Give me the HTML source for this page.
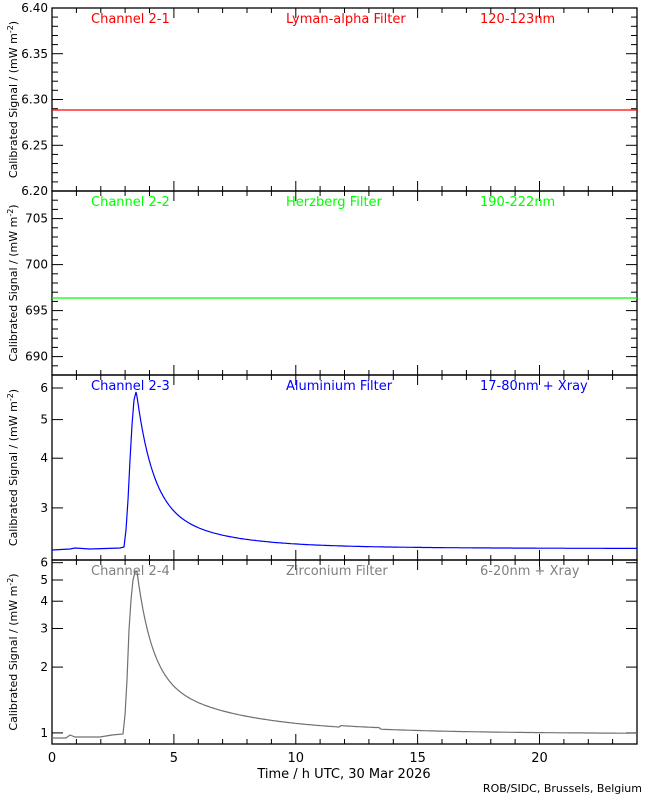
<!DOCTYPE html>
<html><head><meta charset="utf-8"><style>
html,body{margin:0;padding:0;background:#fff;}
svg{display:block;font-family:"DejaVu Sans","Liberation Sans",sans-serif;}
</style></head><body>
<svg id="s" width="650" height="800" xmlns="http://www.w3.org/2000/svg"></svg>
<script>
const s=document.getElementById('s');let h='';
const L=52,R=637;const xs=t=>L+(R-L)*t/24;
const panels=[
 {top:8,bot:191,lin:[6.20,6.40],maj:[6.20,6.25,6.30,6.35,6.40],lab:['6.20','6.25','6.30','6.35','6.40'],minStep:0.01,col:'#ff0000',t:['Channel 2-1','Lyman-alpha Filter','120-123nm']},
 {top:191,bot:375,lin:[688,708],maj:[690,695,700,705],lab:['690','695','700','705'],minStep:1,col:'#00ff00',t:['Channel 2-2','Herzberg Filter','190-222nm']},
 {top:375,bot:560,log:[2.22,6.47],maj:[3,4,5,6],lab:['3','4','5','6'],col:'#0000ff',t:['Channel 2-3','Aluminium Filter','17-80nm + Xray']},
 {top:560,bot:744,log:[0.89,6.17],maj:[1,2,3,4,5,6],lab:['1','2','3','4','5','6'],col:'#808080',t:['Channel 2-4','Zirconium Filter','6-20nm + Xray']}
];
panels.forEach((p,i)=>{
 const Y=v=>p.lin? p.bot-(v-p.lin[0])/(p.lin[1]-p.lin[0])*(p.bot-p.top) : p.bot-(Math.log10(v)-Math.log10(p.log[0]))/(Math.log10(p.log[1])-Math.log10(p.log[0]))*(p.bot-p.top);
 h+=`<rect x="${L}" y="${p.top}" width="${R-L}" height="${p.bot-p.top}" fill="none" stroke="#000" stroke-width="1.3"/>`;
 for(let t=0;t<=24;t++){const x=xs(t).toFixed(1);const len=t%5==0?10:5;
  h+=`<line x1="${x}" y1="${p.bot}" x2="${x}" y2="${p.bot-len}" stroke="#000"/><line x1="${x}" y1="${p.top}" x2="${x}" y2="${p.top+len}" stroke="#000"/>`;}
 if(p.lin){const n=Math.round((p.lin[1]-p.lin[0])/p.minStep);for(let k=0;k<=n;k++){const v=p.lin[0]+k*p.minStep;const y=Y(v).toFixed(1);
   const maj=p.maj.some(m=>Math.abs(m-v)<1e-6);const len=maj?11:6;
   h+=`<line x1="${L}" y1="${y}" x2="${L+len}" y2="${y}" stroke="#000"/><line x1="${R}" y1="${y}" x2="${R-len}" y2="${y}" stroke="#000"/>`;}}
 p.maj.forEach((v,k)=>{const y=Y(v);if(p.log){h+=`<line x1="${L}" y1="${y.toFixed(1)}" x2="${L+11}" y2="${y.toFixed(1)}" stroke="#000"/><line x1="${R}" y1="${y.toFixed(1)}" x2="${R-11}" y2="${y.toFixed(1)}" stroke="#000"/>`;}
  h+=`<text x="${L-4}" y="${(y+4).toFixed(1)}" font-size="12" text-anchor="end">${p.lab[k]}</text>`;});
 const cy=(p.top+p.bot)/2;
 h+=`<text transform="translate(17,${cy}) rotate(-90)" font-size="11" text-anchor="middle">Calibrated Signal / (mW m<tspan dy="-4" font-size="8">-2</tspan><tspan dy="4">)</tspan></text>`;
 const ty=p.top+15;
 h+=`<text x="91" y="${ty}" font-size="13" fill="${p.col}">${p.t[0]}</text><text x="286" y="${ty}" font-size="13" fill="${p.col}">${p.t[1]}</text><text x="480" y="${ty}" font-size="13" fill="${p.col}">${p.t[2]}</text>`;
});
h+=`<line x1="${L}" y1="110" x2="${R}" y2="110" stroke="#ff0000" stroke-width="1.3"/>`;
h+=`<line x1="${L}" y1="298" x2="${R}" y2="298" stroke="#00ff00" stroke-width="1.3"/>`;
const p3=[[52,550],[70,549],[75,548],[90,549],[120,548],[124,547],[126,530],[128,500],[130,460],[132,425],[134,400],[136,392]];
for(let x=137;x<=637;x+=2){const d=x-136;p3.push([x,(549-110*Math.exp(-d/16)-47*Math.exp(-d/60)-3*Math.exp(-d/300)).toFixed(1)]);}
const p4=[[52,738],[66,738],[70,735],[75,737],[100,737],[112,735],[123,734],[125,715],[127,680],[129,630],[131,600],[133,580],[135,572]];
for(let x=137;x<=637;x+=2){const d=x-136;let y=734-110*Math.exp(-d/15)-52*Math.exp(-d/80)-8*Math.exp(-d/200);if(x>340&&x<380)y-=1.5;p4.push([x,y.toFixed(1)]);}
const pl=(a,c)=>`<polyline points="${a.map(q=>q.join(',')).join(' ')}" fill="none" stroke="${c}" stroke-width="1.2"/>`;
h+=pl(p3,'#0000ff')+pl(p4,'#707070');
[0,5,10,15,20].forEach(t=>{h+=`<text x="${xs(t)}" y="762" font-size="13" text-anchor="middle">${t}</text>`;});
h+=`<text x="344" y="778" font-size="13" text-anchor="middle">Time / h UTC, 30 Mar 2026</text>`;
h+=`<text x="642" y="792" font-size="11" text-anchor="end">ROB/SIDC, Brussels, Belgium</text>`;
s.innerHTML=h;
</script>
</body></html>
